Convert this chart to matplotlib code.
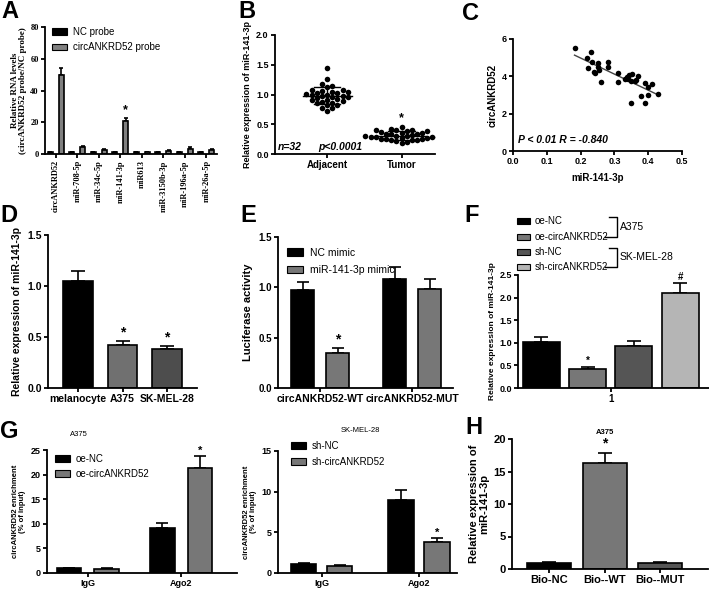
import numpy as np
import matplotlib
matplotlib.use("Agg")
import matplotlib.pyplot as plt
from matplotlib.patches import Rectangle, Patch

plt.rcParams["font.family"] = ["Liberation Sans", "DejaVu Sans"]
plt.rcParams["font.weight"] = "bold"
plt.rcParams["axes.labelweight"] = "bold"

W, H = 709, 590
SERIF = ["Liberation Serif", "DejaVu Serif"]

# ---- A: RNA pull-down
a_targets = ["circANKRD52", "miR-708-5p", "miR-34c-5p", "miR-141-3p", "miR613",
             "miR-3150b-3p", "miR-196a-5p", "miR-26a-5p"]
a_nc = [1.0, 1.0, 1.0, 1.0, 1.0, 1.0, 1.0, 1.0]
a_nc_err = [0.1, 0.1, 0.1, 0.1, 0.1, 0.1, 0.1, 0.1]
a_circ = [50.0, 4.2, 2.6, 21.0, 1.0, 2.0, 3.4, 2.4]
a_circ_err = [4.2, 0.9, 0.7, 1.8, 0.3, 0.5, 0.7, 0.6]

# ---- B: tissue expression (n=32 each)
b_adjacent = [1.44, 1.26, 1.18, 1.15, 1.12, 1.08, 1.07, 1.06, 1.05, 1.04, 1.03,
              1.02, 1.01, 1.00, 0.99, 0.98, 0.97, 0.96, 0.95, 0.94, 0.93, 0.91,
              0.90, 0.89, 0.88, 0.86, 0.85, 0.83, 0.82, 0.78, 0.77, 0.72]
b_tumor = [0.45, 0.42, 0.41, 0.40, 0.40, 0.39, 0.38, 0.37, 0.36, 0.35, 0.34,
           0.33, 0.33, 0.32, 0.31, 0.30, 0.30, 0.29, 0.29, 0.28, 0.28, 0.27,
           0.27, 0.26, 0.26, 0.25, 0.24, 0.24, 0.23, 0.22, 0.21, 0.18]
b_groups = ["Adjacent", "Tumor"]

# ---- C: correlation
c_mir = [0.182, 0.219, 0.232, 0.234, 0.222, 0.242, 0.251, 0.251, 0.254, 0.261,
         0.281, 0.281, 0.310, 0.310, 0.330, 0.338, 0.343, 0.352, 0.350, 0.360,
         0.365, 0.370, 0.350, 0.380, 0.390, 0.390, 0.400, 0.400, 0.410, 0.430,
         0.240, 0.340]
c_circ = [5.50, 4.96, 5.29, 4.79, 4.43, 4.20, 4.73, 4.52, 4.34, 3.68,
          4.79, 4.52, 4.16, 3.68, 3.84, 3.98, 4.07, 4.13, 3.75, 3.75,
          3.80, 4.00, 2.59, 2.96, 3.66, 2.55, 3.41, 3.00, 3.57, 3.05,
          4.25, 3.85]

# ---- D: cell lines
d_cells = ["melanocyte", "A375", "SK-MEL-28"]
d_vals = [1.05, 0.42, 0.38]
d_err = [0.10, 0.04, 0.03]

# ---- E: luciferase
e_constructs = ["circANKRD52-WT", "circANKRD52-MUT"]
e_nc = [0.97, 1.08]
e_nc_err = [0.08, 0.12]
e_mimic = [0.35, 0.98]
e_mimic_err = [0.05, 0.10]

# ---- F: oe / sh
f_labels = ["oe-NC", "oe-circANKRD52", "sh-NC", "sh-circANKRD52"]
f_vals = [1.02, 0.43, 0.92, 2.10]
f_err = [0.10, 0.04, 0.11, 0.22]
f_marks = ["", "*", "", "#"]

# ---- G: RIP
g_groups = ["IgG", "Ago2"]
g_a375_nc = [1.0, 9.2]
g_a375_nc_err = [0.1, 0.9]
g_a375_oe = [0.9, 21.3]
g_a375_oe_err = [0.15, 2.4]
g_sk_nc = [1.1, 9.0]
g_sk_nc_err = [0.15, 1.2]
g_sk_sh = [0.9, 3.8]
g_sk_sh_err = [0.1, 0.45]

# ---- H: biotin pull-down
h_labels = ["Bio-NC", "Bio--WT", "Bio--MUT"]
h_vals = [1.0, 16.3, 1.0]
h_err = [0.1, 1.6, 0.1]

fig = plt.figure(figsize=(W / 100, H / 100), dpi=100)


def px_axes(l, t, r, b, fs=6.5):
    ax = fig.add_axes([l / W, 1 - b / H, (r - l) / W, (b - t) / H])
    for s in ("top", "right"):
        ax.spines[s].set_visible(False)
    for s in ("left", "bottom"):
        ax.spines[s].set_linewidth(1.3)
    ax.tick_params(width=1.3, length=3, labelsize=fs, pad=1.5)
    return ax


def bars(ax, x, vals, errs, colors, width, cap=3):
    ax.bar(x, vals, width, color=colors, edgecolor="black", linewidth=1.2, zorder=2)
    ax.errorbar(x, vals, yerr=[np.zeros(len(vals)), errs], fmt="none",
                ecolor="black", elinewidth=1.2, capsize=cap, capthick=1.2, zorder=1)


def swarm(vals, xscale, yscale, diam):
    order = np.argsort(vals)
    offs = np.zeros(len(vals))
    placed = []
    for i in order:
        y = vals[i] * yscale
        k = 0
        while True:
            cands = [0.0] if k == 0 else [k * diam * 0.5, -k * diam * 0.5]
            ok = None
            for c in cands:
                if all((c - px) ** 2 + (y - py) ** 2 >= diam ** 2 for px, py in placed):
                    ok = c
                    break
            if ok is not None:
                placed.append((ok, y))
                offs[i] = ok / xscale
                break
            k += 1
    return offs


def legend(ax, labels, colors, anchor, fs=7, spacing=0.55):
    handles = [Patch(facecolor=c, edgecolor="black", linewidth=0.8) for c in colors]
    leg = ax.legend(handles, labels, loc="upper left", bbox_to_anchor=anchor,
                    frameon=False, fontsize=fs, handlelength=1.6, handleheight=0.7,
                    labelspacing=spacing, borderpad=0, borderaxespad=0,
                    handletextpad=0.6)
    for t in leg.get_texts():
        t.set_fontweight("normal")
    return leg


# ---------------- A
ax = px_axes(45, 27, 217, 154, fs=6)
xa = np.arange(len(a_targets))
bars(ax, xa - 0.25, a_nc, a_nc_err, "black", 0.24, cap=1.5)
bars(ax, xa + 0.25, a_circ, a_circ_err, "#808080", 0.24, cap=1.5)
ax.text(xa[3] + 0.25, a_circ[3] + a_circ_err[3] + 1, "*", ha="center", va="bottom",
        fontsize=9)
ax.set_xlim(-0.5, 7.5)
ax.set_ylim(0, 80)
ax.set_yticks([0, 20, 40, 60, 80])
ax.set_xticks(xa)
ax.set_xticklabels(a_targets, rotation=90, family=SERIF, fontsize=6)
for lab in ax.get_yticklabels():
    lab.set_family(SERIF)
ax.set_ylabel("Relative RNA levels\n(circANKRD52 probe/NC probe)", family=SERIF,
              fontsize=6.5, labelpad=2, linespacing=1.0)
legend(ax, ["NC probe", "circANKRD52 probe"], ["black", "#808080"], (0.04, 1.0), fs=7)

# ---------------- B
ax = px_axes(275, 35, 435, 154, fs=6.5)
for gi, vals in enumerate([b_adjacent, b_tumor]):
    v = np.array(vals)
    off = swarm(v, 75, 59.5, 5.2)
    ax.scatter(gi + off, v, s=16, color="black", zorder=3, linewidths=0)
    m, sd = v.mean(), v.std(ddof=1)
    ax.plot([gi - 0.33, gi + 0.33], [m, m], color="black", lw=1.0, zorder=2)
    ax.plot([gi - 0.18, gi + 0.18], [m + sd, m + sd], color="black", lw=1.0, zorder=2)
    ax.plot([gi - 0.18, gi + 0.18], [m - sd, m - sd], color="black", lw=1.0, zorder=2)
    ax.plot([gi, gi], [m - sd, m + sd], color="black", lw=1.0, zorder=2)
ax.text(1, max(b_tumor) + 0.05, "*", ha="center", va="bottom", fontsize=9)
ax.set_xlim(-0.7, 1.45)
ax.set_ylim(0, 2.0)
ax.set_yticks([0, 0.5, 1.0, 1.5, 2.0])
ax.set_yticklabels(["0.0", "0.5", "1.0", "1.5", "2.0"])
ax.set_xticks([0, 1])
ax.set_xticklabels(b_groups, fontsize=7)
ax.set_ylabel("Relative expression of miR-141-3p", fontsize=6.5, labelpad=3)
ax.text(0.02, 0.035, "n=32", transform=ax.transAxes, style="italic", fontsize=7.5)
ax.text(0.27, 0.035, "p<0.0001", transform=ax.transAxes, style="italic", fontsize=7.5)

# ---------------- C
ax = px_axes(513, 39, 682, 151, fs=6.5)
ax.scatter(c_mir, c_circ, s=16, color="black", linewidths=0, zorder=3)
k, b0 = np.polyfit(c_mir, c_circ, 1)
xl = np.array([min(c_mir), max(c_mir)])
ax.plot(xl, k * xl + b0, color="#444444", lw=1.0, zorder=2)
ax.set_xlim(0, 0.5)
ax.set_ylim(0, 6)
ax.set_xticks(np.arange(0, 0.51, 0.1))
ax.set_xticklabels(["0.0", "0.1", "0.2", "0.3", "0.4", "0.5"])
ax.set_yticks([0, 2, 4, 6])
ax.set_xlabel("miR-141-3p", fontsize=7, labelpad=5)
ax.set_ylabel("circANKRD52", fontsize=7, labelpad=3)
ax.text(0.03, 0.07, "P < 0.01 R = -0.840", transform=ax.transAxes, style="italic",
        fontsize=7.5)

# ---------------- D
ax = px_axes(48, 235, 197, 388, fs=7.5)
xd = np.arange(len(d_cells))
bars(ax, xd, d_vals, d_err, ["black", "#707070", "#4d4d4d"], 0.67, cap=5)
for i in (1, 2):
    ax.text(xd[i], d_vals[i] + d_err[i] + 0.02, "*", ha="center", va="bottom", fontsize=10)
ax.set_xlim(-0.67, 2.67)
ax.set_ylim(0, 1.5)
ax.set_yticks([0, 0.5, 1.0, 1.5])
ax.set_yticklabels(["0.0", "0.5", "1.0", "1.5"])
ax.set_xticks(xd)
ax.set_xticklabels(d_cells, fontsize=7.5)
ax.set_ylabel("Relative expression of miR-141-3p", fontsize=7.5, labelpad=4)

# ---------------- E
ax = px_axes(278, 237, 453, 388, fs=7)
xe = np.arange(len(e_constructs))
bars(ax, xe - 0.19, e_nc, e_nc_err, "black", 0.25, cap=4)
bars(ax, xe + 0.19, e_mimic, e_mimic_err, "#777777", 0.25, cap=4)
ax.text(xe[0] + 0.19, e_mimic[0] + e_mimic_err[0] + 0.01, "*", ha="center", va="bottom",
        fontsize=10)
ax.set_xlim(-0.46, 1.44)
ax.set_ylim(0, 1.5)
ax.set_yticks([0, 0.5, 1.0, 1.5])
ax.set_yticklabels(["0.0", "0.5", "1.0", "1.5"])
ax.set_xticks(xe)
ax.set_xticklabels(e_constructs, fontsize=7.5)
ax.set_ylabel("Luciferase activity", fontsize=8, labelpad=4)
legend(ax, ["NC mimic", "miR-141-3p mimic"], ["black", "#777777"], (0.05, 0.93),
       fs=7.5, spacing=0.7)

# ---------------- F
f_colors = ["black", "#777777", "#555555", "#b5b5b5"]
ax = px_axes(518, 275, 709, 388, fs=6.5)
xf = 1 + np.array([-0.375, -0.125, 0.125, 0.375])
bars(ax, xf, f_vals, f_err, f_colors, 0.2, cap=5)
for x, v, e, mk in zip(xf, f_vals, f_err, f_marks):
    if mk:
        ax.text(x, v + e + 0.03, mk, ha="center", va="bottom", fontsize=7)
ax.set_xlim(0.5, 1.53)
ax.set_ylim(0, 2.5)
ax.set_yticks([0, 0.5, 1.0, 1.5, 2.0, 2.5])
ax.set_yticklabels(["0.0", "0.5", "1.0", "1.5", "2.0", "2.5"])
ax.set_xticks([1])
ax.set_xticklabels(["1"], fontsize=7)
ax.set_ylabel("Relative expression of miR-141-3p", fontsize=6, labelpad=2)

# ---------------- G left
ax = px_axes(47, 450, 237, 573, fs=6.5)
xg = np.arange(len(g_groups))
bars(ax, xg - 0.2, g_a375_nc, g_a375_nc_err, "black", 0.26, cap=4)
bars(ax, xg + 0.2, g_a375_oe, g_a375_oe_err, "#777777", 0.26, cap=4)
ax.text(xg[1] + 0.2, g_a375_oe[1] + g_a375_oe_err[1] + 0.2, "*", ha="center",
        va="bottom", fontsize=8)
ax.set_xlim(-0.44, 1.6)
ax.set_ylim(0, 25)
ax.set_yticks([0, 5, 10, 15, 20, 25])
ax.set_xticks(xg)
ax.set_xticklabels(g_groups, fontsize=6.5)
ax.set_ylabel("circANKRD52 enrichment\n(% of input)", fontsize=5.5, labelpad=3,
              linespacing=1.1)
ax.set_title("A375", fontsize=5.5, pad=10, x=0.17)
legend(ax, ["oe-NC", "oe-circANKRD52"], ["black", "#777777"], (0.04, 0.97), fs=7)

# ---------------- G right
ax = px_axes(278, 451, 457, 573, fs=6.5)
bars(ax, xg - 0.185, g_sk_nc, g_sk_nc_err, "black", 0.26, cap=4)
bars(ax, xg + 0.185, g_sk_sh, g_sk_sh_err, "#777777", 0.26, cap=4)
ax.text(xg[1] + 0.185, g_sk_sh[1] + g_sk_sh_err[1] + 0.1, "*", ha="center",
        va="bottom", fontsize=8)
ax.set_xlim(-0.45, 1.39)
ax.set_ylim(0, 15)
ax.set_yticks([0, 5, 10, 15])
ax.set_xticks(xg)
ax.set_xticklabels(g_groups, fontsize=6.5)
ax.set_ylabel("circANKRD52 enrichment\n(% of input)", fontsize=5.5, labelpad=3,
              linespacing=1.1)
ax.set_title("SK-MEL-28", fontsize=5.5, pad=14, x=0.46)
legend(ax, ["sh-NC", "sh-circANKRD52"], ["black", "#777777"], (0.07, 1.08), fs=7)

# ---------------- H
ax = px_axes(512, 439, 708, 569, fs=8)
xh = np.arange(len(h_labels))
bars(ax, xh, h_vals, h_err, ["black", "#777777", "#555555"], 0.8, cap=5)
ax.text(xh[1], h_vals[1] + h_err[1] + 0.4, "*", ha="center", va="bottom", fontsize=10)
ax.text(xh[1], h_vals[1] + h_err[1] + 2.6, "A375", ha="center", va="bottom", fontsize=5.5)
ax.set_xlim(-0.67, 2.86)
ax.set_ylim(0, 20)
ax.set_yticks([0, 5, 10, 15, 20])
ax.set_xticks(xh)
ax.set_xticklabels(h_labels, fontsize=8)
ax.set_ylabel("Relative expression of\nmiR-141-3p", fontsize=8, labelpad=3,
              linespacing=1.0)

# ---------------- overlay: panel letters, F legend with brackets
ov = fig.add_axes([0, 0, 1, 1])
ov.set_xlim(0, W)
ov.set_ylim(H, 0)
ov.axis("off")
for letter, (lx, ly) in {"A": (1, 11), "B": (238, 11), "C": (462, 13), "D": (0, 215),
                         "E": (240, 215), "F": (464, 216), "G": (0, 432),
                         "H": (465, 427)}.items():
    ov.text(lx, ly, letter, fontsize=17, fontweight="bold", va="center", ha="left")

rows = [221, 237, 252, 267]
for ry, lab, col in zip(rows, f_labels, f_colors):
    ov.add_patch(Rectangle((517, ry - 3), 13, 6, facecolor=col, edgecolor="black",
                           linewidth=0.8))
    ov.text(535, ry, lab, fontsize=7, va="center", ha="left", fontweight="normal")
for (r0, r1), name in [((rows[0], rows[1]), "A375"), ((rows[2], rows[3]), "SK-MEL-28")]:
    ov.plot([609, 617, 617, 605], [r0 - 4, r0 - 4, r1, r1], color="black", lw=1.0)
    ov.text(620, (r0 + r1) / 2 - 2, name, fontsize=7.5, va="center", ha="left",
            fontweight="normal")

fig.savefig("out.png", dpi=100)
